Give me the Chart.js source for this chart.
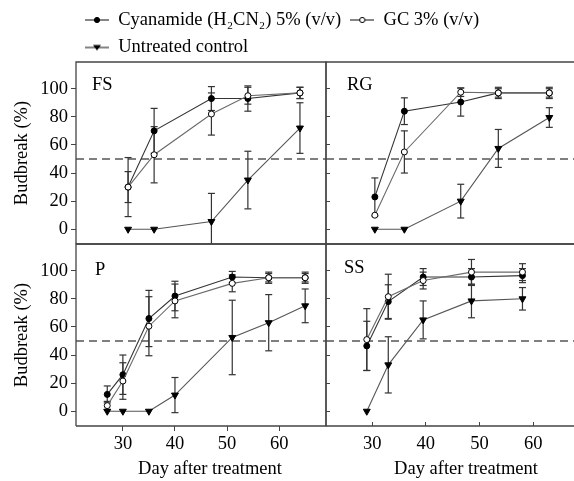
<!DOCTYPE html>
<html><head><meta charset="utf-8">
<script src="https://cdn.jsdelivr.net/npm/chart.js@4.4.1/dist/chart.umd.min.js"></script>
<style>
html,body{margin:0;padding:0;background:#fff;}
#wrap{position:relative;width:574px;height:481px;overflow:hidden;background:#fff}
canvas{position:absolute;left:0;top:0}
</style></head><body>
<div id="wrap">
<canvas id="leg" width="574" height="481"></canvas>
<canvas id="c0" width="574" height="481"></canvas>
<canvas id="c1" width="574" height="481"></canvas>
<canvas id="c2" width="574" height="481"></canvas>
<canvas id="c3" width="574" height="481"></canvas>
</div>
<script>
// ---- text ----
const seriesNames = ['Cyanamide (H\u2082CN\u2082) 5% (v/v)', 'GC 3% (v/v)', 'Untreated control'];
const panelNames = ['FS', 'RG', 'P', 'SS'];
const yTitle = 'Budbreak (%)';
const xTitle = 'Day after treatment';
const yTicks = [0, 20, 40, 60, 80, 100];
const xTicks = [30, 40, 50, 60];
const refLine = 50;

// ---- data ----
const fsDays = [31, 36, 47, 54, 64];
const fsCyan = [30, 70, 93, 93, 97];
const fsCyanErr = [21, 16, 8.5, 9, 4];
const fsGC = [30, 53, 82, 95, 97];
const fsGCErr = [11, 20, 15, 6, 4];
const fsCtrl = [0, 0, 5.5, 35, 72];
const fsCtrlErr = [0, 0, 20, 20.5, 18];

const rgDays = [30.5, 36, 46.5, 53.5, 63];
const rgCyan = [23, 84, 90.5, 97, 97];
const rgCyanErr = [13.5, 9.5, 10, 4, 4];
const rgGC = [10, 55, 97.5, 97, 97];
const rgGCErr = [0, 15, 3, 3, 3];
const rgCtrl = [0, 0, 20, 57.5, 79.5];
const rgCtrlErr = [0, 0, 12, 13.5, 7];

const pDays = [27, 30, 35, 40, 51, 58, 65];
const pCyan = [12, 26, 66, 82, 95.5, 95, 95];
const pCyanErr = [6, 14, 20, 10.5, 4, 4, 4];
const pGC = [4, 21.5, 60.5, 78.5, 91, 95, 95];
const pGCErr = [3, 13, 21, 12, 6, 3, 3];
const pCtrl = [0, 0, 0, 11.5, 52.5, 63, 75];
const pCtrlErr = [0, 0, 0, 12.5, 26.5, 20, 12];

const ssDays = [29, 33, 39.5, 48.5, 58];
const ssCyan = [46.5, 78, 95.5, 95.5, 96.5];
const ssCyanErr = [17.5, 12, 6, 6, 5];
const ssGC = [51, 81.5, 93, 99, 99];
const ssGCErr = [22, 16, 6, 9, 6];
const ssCtrl = [0, 33, 65, 78.5, 80];
const ssCtrlErr = [0, 20, 13.5, 12, 8];

// ---- styling ----
const FONT = '"Liberation Serif", "Times New Roman", serif';
const FS_PX = 18.5;
Chart.defaults.font.family = FONT;
Chart.defaults.font.size = FS_PX;
Chart.defaults.color = '#000';

function pts(days, vals) { return days.map((d, i) => ({x: d, y: vals[i]})); }
function errPts(days, vals, errs) {
  const out = [];
  days.forEach((d, i) => {
    if (errs[i] > 0) {
      out.push({x: d, y: vals[i] - errs[i]}, {x: d, y: vals[i] + errs[i]}, {x: d, y: null});
    }
  });
  return out;
}

const seriesStyles = [
  {borderColor: '#333', pointStyle: 'circle', pointRadius: 3, pointBackgroundColor: '#000', pointBorderColor: '#000', pointBorderWidth: 1, pointRotation: 0},
  {borderColor: '#6a6a6a', pointStyle: 'circle', pointRadius: 3, pointBackgroundColor: '#fff', pointBorderColor: '#000', pointBorderWidth: 1, pointRotation: 0},
  {borderColor: '#555', pointStyle: 'triangle', pointRadius: 4, pointBackgroundColor: '#000', pointBorderColor: '#000', pointBorderWidth: 1, pointRotation: 180}
];

const framePlugin = {
  id: 'frame',
  afterDatasetsDraw(chart, args, opts) {
    const {ctx, chartArea: a} = chart;
    ctx.save();
    ctx.strokeStyle = '#444';
    ctx.lineWidth = 1.3;
    ctx.beginPath();
    ctx.moveTo(a.left, a.bottom); ctx.lineTo(a.left, a.top); ctx.lineTo(a.right, a.top);
    if (opts.rightEdge) { ctx.lineTo(a.right, a.bottom); } else { ctx.moveTo(a.right, a.bottom); }
    ctx.lineTo(a.left, a.bottom);
    ctx.stroke();
    ctx.fillStyle = '#000';
    ctx.font = FS_PX + 'px ' + FONT;
    ctx.textBaseline = 'middle';
    ctx.textAlign = 'left';
    ctx.fillText(opts.label, a.left + opts.dx, a.top + opts.dy);
    ctx.restore();
  }
};

function makePanel(id, cfg) {
  const {name, days, series, errs, isLeft, isBottom, xmin, xmax, pad, labelPos, titleShift} = cfg;
  const datasets = [];
  datasets.push({
    data: [{x: xmin, y: refLine}, {x: xmax, y: refLine}],
    borderColor: '#555', borderWidth: 1.5, borderDash: [8, 5], pointRadius: 0, order: 10
  });
  errs.forEach((e, k) => {
    datasets.push({
      data: errPts(days, series[k], e),
      borderColor: '#333', borderWidth: 1.2, spanGaps: false,
      pointStyle: 'line', pointRadius: 3.5, pointBorderColor: '#333', pointBorderWidth: 1.2,
      order: 6 + k
    });
  });
  series.forEach((v, k) => {
    datasets.push(Object.assign({
      label: seriesNames[k], data: pts(days, v), borderWidth: 1.1, tension: 0, order: 3 - k
    }, seriesStyles[k]));
  });
  const chart = new Chart(document.getElementById(id), {
    type: 'line',
    data: {datasets},
    plugins: [framePlugin],
    options: {
      responsive: false, animation: false, devicePixelRatio: 1,
      layout: {autoPadding: false, padding: pad},
      plugins: {legend: {display: false}, tooltip: {enabled: false},
        frame: {label: name, dx: labelPos[0], dy: labelPos[1], rightEdge: isLeft}},
      scales: {
        x: {
          type: 'linear', min: xmin, max: xmax, display: isBottom, position: 'bottom',
          afterBuildTicks: s => { s.ticks = xTicks.map(v => ({value: v})); },
          afterFit: s => { s.height = isBottom ? 54 : 0; },
          ticks: {padding: isLeft ? 2 : 11, maxRotation: 0, autoSkip: false, color: '#000'},
          grid: {display: true, drawOnChartArea: false, drawTicks: true, tickLength: isLeft ? 5 : -4, color: '#444', lineWidth: 1},
          border: {display: false},
          title: {display: true, text: xTitle, padding: {top: 0, bottom: 0}, color: '#000'}
        },
        y: {
          type: 'linear', min: -10.5, max: 119, position: 'left',
          afterBuildTicks: s => { s.ticks = yTicks.map(v => ({value: v})); },
          afterFit: s => { s.width = isLeft ? 65 : 0; },
          ticks: {display: isLeft, padding: 3, color: '#000'},
          grid: {display: true, drawOnChartArea: false, drawTicks: true, tickLength: isLeft ? 5 : -4, color: '#444', lineWidth: 1},
          border: {display: false},
          title: {display: isLeft, text: yTitle, padding: {top: 0, bottom: 0}, color: '#000'}
        }
      }
    }
  });
  if (isBottom && titleShift) {
    const s = chart.scales.x;
    const orig = s.drawTitle.bind(s);
    s.drawTitle = function () {
      const ctx = this.ctx;
      ctx.save(); ctx.translate(titleShift, 0); orig(); ctx.restore();
    };
    chart.draw();
  }
  return chart;
}

makePanel('c0', {name: panelNames[0], days: fsDays, series: [fsCyan, fsGC, fsCtrl], errs: [fsCyanErr, fsGCErr, fsCtrlErr],
  isLeft: true, isBottom: false, xmin: 21, xmax: 69, pad: {left: 11, top: 62, right: 248, bottom: 237}, labelPos: [16, 23]});
makePanel('c1', {name: panelNames[1], days: rgDays, series: [rgCyan, rgGC, rgCtrl], errs: [rgCyanErr, rgGCErr, rgCtrlErr],
  isLeft: false, isBottom: false, xmin: 21.4, xmax: 67.6, pad: {left: 326, top: 62, right: 0, bottom: 237}, labelPos: [21, 23]});
makePanel('c2', {name: panelNames[2], days: pDays, series: [pCyan, pGC, pCtrl], errs: [pCyanErr, pGCErr, pCtrlErr],
  isLeft: true, isBottom: true, xmin: 21, xmax: 69, pad: {left: 11, top: 244, right: 248, bottom: 1}, labelPos: [19, 26], titleShift: 9});
makePanel('c3', {name: panelNames[3], days: ssDays, series: [ssCyan, ssGC, ssCtrl], errs: [ssCyanErr, ssGCErr, ssCtrlErr],
  isLeft: false, isBottom: true, xmin: 21.4, xmax: 67.6, pad: {left: 326, top: 244, right: 0, bottom: 1}, labelPos: [18, 24], titleShift: 16});

// ---- legend ----
function legendIcon(k) {
  const c = document.createElement('canvas');
  c.width = 24; c.height = 10;
  const g = c.getContext('2d');
  g.strokeStyle = '#333'; g.lineWidth = 1.2;
  g.beginPath(); g.moveTo(0, 5); g.lineTo(24, 5); g.stroke();
  g.lineWidth = 1;
  if (k === 2) {
    g.fillStyle = '#000';
    g.beginPath(); g.moveTo(8, 2.5); g.lineTo(16, 2.5); g.lineTo(12, 8); g.closePath(); g.fill();
  } else {
    g.beginPath(); g.arc(12, 5, 2.6, 0, Math.PI * 2);
    g.fillStyle = k === 0 ? '#000' : '#fff'; g.fill();
    g.strokeStyle = '#000'; g.stroke();
  }
  return c;
}
const icons = [0, 1, 2].map(legendIcon);
new Chart(document.getElementById('leg'), {
  type: 'line',
  data: {datasets: seriesNames.map(n => ({label: n, data: []}))},
  options: {
    responsive: false, animation: false, devicePixelRatio: 1,
    layout: {autoPadding: false, padding: {left: 76, top: 1.75, right: 0, bottom: 0}},
    scales: {x: {display: false}, y: {display: false}},
    plugins: {
      tooltip: {enabled: false},
      legend: {
        display: true, position: 'top', align: 'start',
        labels: {
          usePointStyle: true, pointStyleWidth: 24, padding: 9, color: '#000', font: {size: FS_PX},
          generateLabels: chart => chart.data.datasets.map((ds, i) => ({
            text: ds.label, pointStyle: icons[i], fillStyle: '#000', strokeStyle: '#000',
            lineWidth: 0, hidden: false, datasetIndex: i
          }))
        }
      }
    }
  }
});
</script>
</body></html>
